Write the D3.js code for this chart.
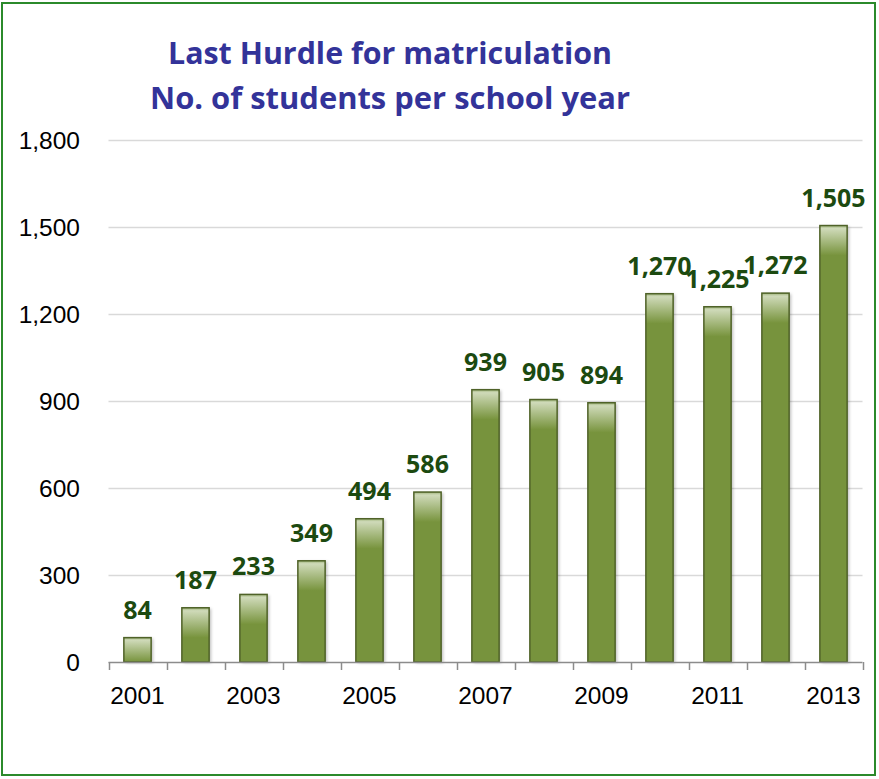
<!DOCTYPE html>
<html>
<head>
<meta charset="utf-8">
<script src="https://cdn.jsdelivr.net/npm/d3@7"></script>
<style>
  html, body { margin: 0; padding: 0; background: #fff; }
  svg { display: block; }
</style>
</head>
<body>
<svg id="chart" width="879" height="779"></svg>
<script>
// data
const years = ["2001", "2002", "2003", "2004", "2005", "2006", "2007",
               "2008", "2009", "2010", "2011", "2012", "2013"];
const students = [84, 187, 233, 349, 494, 586, 939, 905, 894, 1270, 1225, 1272, 1505];
const yTicks = [0, 300, 600, 900, 1200, 1500, 1800];
const titleLines = ["Last Hurdle for matriculation", "No. of students per school year"];

var svg = d3.select("#chart");

const plotLeft = 108.5, plotRight = 862.5, plotTop = 140, plotBottom = 662;

// frame
svg.append("rect")
    .attr("x", 2).attr("y", 3)
    .attr("width", 873).attr("height", 772)
    .attr("fill", "#fff")
    .attr("stroke", "#2b8a2b")
    .attr("stroke-width", 2);

let x = d3.scaleBand()
    .domain(years)
    .range([plotLeft, plotRight])
    .paddingInner(0.53)
    .paddingOuter(0.265);

let y = d3.scaleLinear()
    .domain([0, 1800])
    .range([plotBottom, plotTop]);

let defs = svg.append("defs");
let grad = defs.append("linearGradient")
    .attr("id", "barTop")
    .attr("x1", 0).attr("y1", 0).attr("x2", 0).attr("y2", 1);
grad.append("stop").attr("offset", "0%").attr("stop-color", "#9fb47a");
grad.append("stop").attr("offset", "10%").attr("stop-color", "#cfdab9");
grad.append("stop").attr("offset", "100%").attr("stop-color", "#77933c");

let shadow = defs.append("filter").attr("id", "shadow")
    .attr("x", "-20%").attr("y", "-5%").attr("width", "150%").attr("height", "115%");
shadow.append("feDropShadow")
    .attr("dx", 2).attr("dy", 1).attr("stdDeviation", 1.5)
    .attr("flood-color", "#000").attr("flood-opacity", 0.25);

// gridlines
svg.append("g")
    .selectAll("line")
    .data(yTicks.filter(d => d > 0))
    .enter()
    .append("line")
    .attr("x1", plotLeft).attr("x2", plotRight)
    .attr("y1", d => Math.round(y(d)) + 0.5)
    .attr("y2", d => Math.round(y(d)) + 0.5)
    .attr("stroke", "#d9d9d9")
    .attr("stroke-width", 1.5);

// y labels
svg.append("g")
    .selectAll("text")
    .data(yTicks)
    .enter()
    .append("text")
    .attr("x", 80)
    .attr("y", d => y(d) + 9)
    .attr("text-anchor", "end")
    .attr("font-family", "'Liberation Sans', Arial, sans-serif")
    .attr("font-size", 24.5)
    .attr("fill", "#000")
    .text(d => d3.format(",")(d));

// bars
let bars = svg.append("g")
    .selectAll("g")
    .data(years.map((d, i) => ({ year: d, value: students[i] })))
    .enter()
    .append("g");

bars.append("rect")
    .attr("x", d => x(d.year))
    .attr("y", d => y(d.value))
    .attr("width", x.bandwidth())
    .attr("height", d => plotBottom - y(d.value))
    .attr("fill", "#77933c")
    .attr("filter", "url(#shadow)");

bars.append("rect")
    .attr("x", d => x(d.year))
    .attr("y", d => y(d.value))
    .attr("width", x.bandwidth())
    .attr("height", d => Math.min(30, plotBottom - y(d.value)))
    .attr("fill", "url(#barTop)");

bars.append("rect")
    .attr("x", d => x(d.year))
    .attr("y", d => y(d.value))
    .attr("width", x.bandwidth())
    .attr("height", d => plotBottom - y(d.value))
    .attr("fill", "none")
    .attr("stroke", "#4f6228")
    .attr("stroke-width", 1.5);

// value labels
bars.append("text")
    .attr("x", d => x(d.year) + x.bandwidth() / 2)
    .attr("y", d => y(d.value) - 19)
    .attr("text-anchor", "middle")
    .attr("font-family", "'Open Sans', sans-serif")
    .attr("font-weight", "bold")
    .attr("font-size", 25)
    .attr("fill", "#1c4a10")
    .text(d => d3.format(",")(d.value));

// x axis
let axis = svg.append("g");
axis.append("line")
    .attr("x1", plotLeft).attr("x2", plotRight)
    .attr("y1", plotBottom + 0.5).attr("y2", plotBottom + 0.5)
    .attr("stroke", "#8c8c8c")
    .attr("stroke-width", 1.5);

let edges = years.map(d => x(d) - x.step() * x.paddingInner() / 2).concat([plotRight]);
axis.selectAll("line.tick")
    .data(edges)
    .enter()
    .append("line")
    .attr("class", "tick")
    .attr("x1", d => Math.round(d) + 0.5).attr("x2", d => Math.round(d) + 0.5)
    .attr("y1", plotBottom).attr("y2", plotBottom + 8)
    .attr("stroke", "#8c8c8c")
    .attr("stroke-width", 1.5);

axis.selectAll("text")
    .data(years.filter((d, i) => i % 2 === 0))
    .enter()
    .append("text")
    .attr("x", d => x(d) + x.bandwidth() / 2)
    .attr("y", 704)
    .attr("text-anchor", "middle")
    .attr("font-family", "'Liberation Sans', Arial, sans-serif")
    .attr("font-size", 24.5)
    .attr("fill", "#000")
    .text(d => d);

// title
svg.append("g")
    .selectAll("text")
    .data(titleLines)
    .enter()
    .append("text")
    .attr("x", 390)
    .attr("y", (d, i) => 64 + i * 45)
    .attr("text-anchor", "middle")
    .attr("font-family", "'Open Sans', sans-serif")
    .attr("font-weight", "bold")
    .attr("font-size", 31)
    .attr("fill", "#333399")
    .attr("textLength", (d, i) => i === 0 ? 444 : 480)
    .attr("lengthAdjust", "spacingAndGlyphs")
    .text(d => d);
</script>
</body>
</html>
